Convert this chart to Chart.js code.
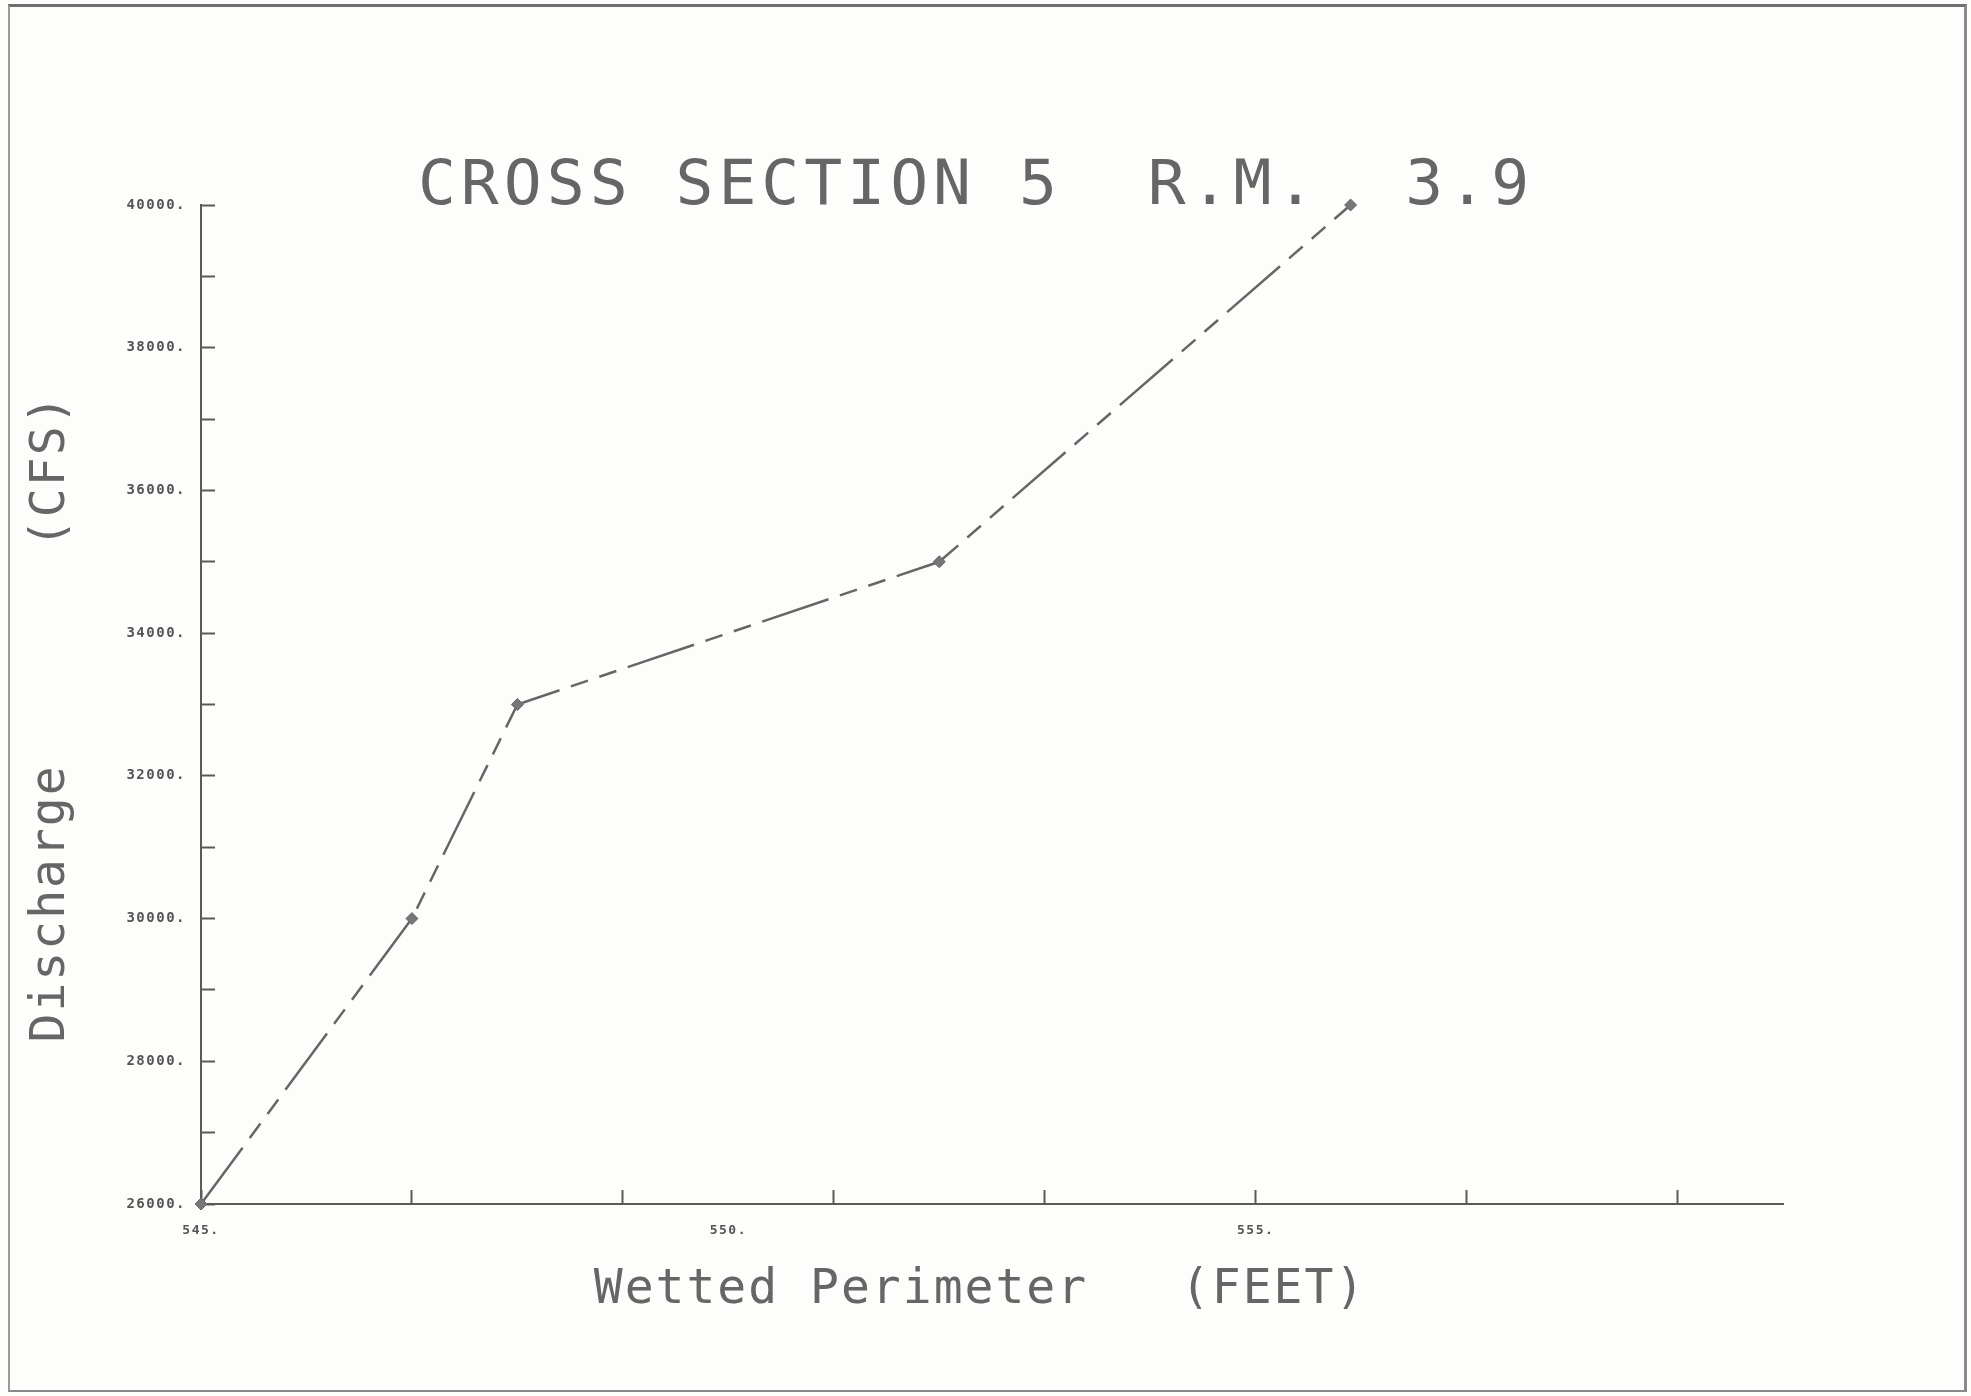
<!DOCTYPE html>
<html>
<head>
<meta charset="utf-8">
<script src="https://cdn.jsdelivr.net/npm/chart.js@4/dist/chart.umd.min.js"></script>
<style>
  html, body { margin: 0; padding: 0; background: #fdfdfc; }
  #wrap { position: absolute; left: 0; top: 0; width: 1971px; height: 1396px; }
  #frame {
    position: absolute; left: 8px; top: 4px; right: 4px; bottom: 4px;
    border-top: 3px solid #6f6f6f; border-left: 2px solid #9a9a9a;
    border-right: 3px solid #8a8a8a; border-bottom: 2px solid #8a8a8a;
    pointer-events: none;
  }
</style>
</head>
<body>
<div id="wrap">
  <canvas id="chart"></canvas>
  <div id="frame"></div>
</div>
<script>
// wetted perimeter (feet) vs discharge (cfs)
var perimeter = [545, 547, 548, 552, 555.9];
var discharge = [26000, 30000, 33000, 35000, 40000];

// tick labels printed on the axes
var yLabels = [26000, 28000, 30000, 32000, 34000, 36000, 38000, 40000];
var xLabels = [545, 550, 555];

var title = "CROSS SECTION 5  R.M.  3.9";
var xTitle = "Wetted Perimeter   (FEET)";
var yTitle = "Discharge       (CFS)";

var ink = "#5a5a5a";
var mono = "'DejaVu Sans Mono', monospace";

// plotter style text (wide letter spacing), drawn after the chart
var plotterText = {
  id: "plotterText",
  beforeDraw: function (chart) {
    chart.ctx.letterSpacing = "1.5px";
  },
  afterDraw: function (chart) {
    var ctx = chart.ctx;
    ctx.save();
    ctx.fillStyle = "#666";
    ctx.textAlign = "center";
    ctx.textBaseline = "middle";

    ctx.letterSpacing = "5px";
    ctx.font = "63px " + mono;
    ctx.fillText(title, 976, 188);

    ctx.letterSpacing = "2px";
    ctx.font = "48px " + mono;
    ctx.fillText(xTitle, 980, 1291);

    ctx.translate(52, 718);
    ctx.rotate(-Math.PI / 2);
    ctx.fillText(yTitle, 0, 0);
    ctx.restore();
  },
};

var points = [];
for (var i = 0; i < perimeter.length; i++) {
  points.push({ x: perimeter[i], y: discharge[i] });
}

new Chart(document.getElementById("chart"), {
  type: "line",
  data: {
    datasets: [
      {
        data: points,
        borderColor: "#666",
        borderWidth: 2.5,
        borderDash: [70, 12, 18, 12, 18, 12],
        pointStyle: "rectRot",
        pointRadius: 6,
        pointBackgroundColor: "#777",
        pointBorderColor: "#666",
        pointBorderWidth: 1,
        tension: 0,
        clip: false,
      },
    ],
  },
  options: {
    responsive: true,
    maintainAspectRatio: false,
    animation: false,
    layout: { padding: { left: 0, top: 205, right: 188, bottom: 0 } },
    plugins: { legend: { display: false }, tooltip: { enabled: false } },
    scales: {
      x: {
        type: "linear",
        min: 545,
        max: 560,
        afterFit: function (s) { s.height = 192; },
        border: { color: ink, width: 2 },
        grid: {
          drawOnChartArea: false,
          tickLength: -14,
          tickWidth: 2,
          tickColor: function (c) {
            return c.tick && (c.tick.value - 545) % 2 === 0 ? ink : "rgba(0,0,0,0)";
          },
        },
        ticks: {
          stepSize: 1,
          autoSkip: false,
          maxRotation: 0,
          padding: 33,
          color: "#555",
          font: { family: mono, size: 13, weight: "bold" },
          callback: function (v) {
            return xLabels.indexOf(v) >= 0 ? v + "." : "";
          },
        },
      },
      y: {
        min: 26000,
        max: 40000,
        afterFit: function (s) { s.width = 201; },
        border: { color: ink, width: 2 },
        grid: {
          drawOnChartArea: false,
          tickLength: -14,
          tickWidth: 2,
          tickColor: ink,
        },
        ticks: {
          stepSize: 1000,
          autoSkip: false,
          padding: 29,
          color: "#555",
          font: { family: mono, size: 14, weight: "bold" },
          callback: function (v) {
            return yLabels.indexOf(v) >= 0 ? v + "." : "";
          },
        },
      },
    },
  },
  plugins: [plotterText],
});
</script>
</body>
</html>
